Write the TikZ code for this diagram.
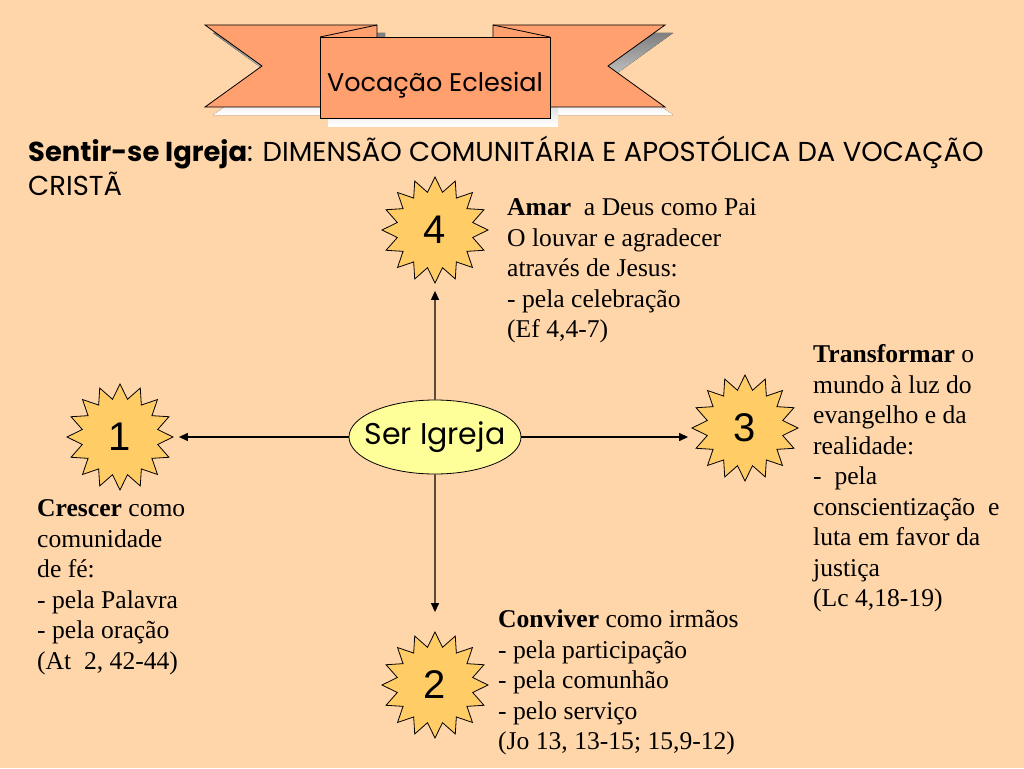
\documentclass[tikz,border=0pt]{standalone}
\usepackage{fontspec}
\setmainfont{Liberation Serif}
\newfontfamily\comic{Poppins}
\newfontfamily\arial{Liberation Sans}
\usetikzlibrary{shapes.geometric,arrows.meta}
\definecolor{bg}{RGB}{255,214,170}
\definecolor{ribbon}{RGB}{255,160,110}
\definecolor{shade}{RGB}{128,128,128}
\definecolor{starfill}{RGB}{255,204,102}
\definecolor{ellfill}{RGB}{255,255,153}
\tikzset{
  starbox/.style={star, star points=16, star point ratio=1.38, minimum size=106pt,
    inner sep=0pt, fill=starfill, draw=black, line width=0.8pt,
    font=\arial\fontsize{40}{40}\selectfont},
  txt/.style={anchor=north west, inner sep=0pt, align=left,
    font=\fontsize{25.6}{30.5}\selectfont},
  arr/.style={line width=1.2pt, -{Triangle[length=9pt,width=8pt]}},
  band/.style={fill=ribbon, draw=black, line width=0.8pt, line join=miter},
}
\begin{document}
\begin{tikzpicture}[x=1pt,y=-1pt]
\fill[bg] (0,0) rectangle (1024,768);
\useasboundingbox (0,0) rectangle (1024,768);
% banner shadows
\begin{scope}[shift={(8,8)}]
  \fill[shade] (205,25) -- (377,25) -- (377,107) -- (205,107) -- (262,66) -- cycle;
  \fill[shade] (665,25) -- (493,25) -- (493,107) -- (665,107) -- (608,66) -- cycle;
  \fill[shade] (320,37) rectangle (550,118);
\end{scope}
% ribbons
\filldraw[band] (205,25) -- (377,25) -- (377,107) -- (205,107) -- (262,66) -- cycle;
\filldraw[band] (665,25) -- (493,25) -- (493,107) -- (665,107) -- (608,66) -- cycle;
\draw[line width=0.8pt] (320,37) -- (377,25);
\draw[line width=0.8pt] (550,37) -- (493,25);
\node[band, rectangle, minimum width=230pt, minimum height=81pt, inner sep=0pt,
  text height=27pt, text depth=0pt,
  font=\comic\fontsize{25.5}{30}\selectfont] (title) at (435,77.5) {Vocação Eclesial};
% header
\node[anchor=north west, inner sep=0pt, align=left,
  font=\comic\fontsize{27.4}{30}\selectfont] (hdr) at (28,136)
  {\strut\textbf{Sentir-se Igreja}: DIMENSÃO COMUNITÁRIA E APOSTÓLICA DA VOCAÇÃO\\CRISTÃ};
% centre
\node[ellipse, minimum width=172pt, minimum height=74pt, inner xsep=-11pt, inner ysep=0pt,
  fill=ellfill, draw=black, line width=0.8pt,
  font=\comic\fontsize{30}{32}\selectfont] (ser) at (435,437) {Ser Igreja};
% stars
\node[starbox] (s4) at (435,230) {4};
\node[starbox] (s1) at (120,437) {1};
\node[starbox] (s3) at (745,428) {3};
\node[starbox] (s2) at (435,685) {2};
% arrows
\draw[arr, shorten >=7pt] (ser.north) -- (s4.south);
\draw[arr, shorten >=19pt] (ser.south) -- (s2.north);
\draw[arr, shorten >=5pt] (ser.west) -- (ser.west -| s1.east);
\draw[arr, shorten >=3pt] (ser.east) -- (ser.east -| s3.west);
% texts
\node[txt] (t4) at (507,194) {\strut\textbf{Amar}\ \ a Deus como Pai\\O louvar e agradecer\\através de Jesus:\\- pela celebração\\(Ef 4,4-7)};
\node[txt] (t3) at (813,341) {\strut\textbf{Transformar} o\\mundo à luz do\\evangelho e da\\realidade:\\-\ \ pela\\conscientização\ \ e\\luta em favor da\\justiça\\(Lc 4,18-19)};
\node[txt] (t1) at (37,495) {\strut\textbf{Crescer} como\\comunidade\\de fé:\\- pela Palavra\\- pela oração\\(At\ \ 2, 42-44)};
\node[txt] (t2) at (498,606) {\strut\textbf{Conviver} como irmãos\\- pela participação\\- pela comunhão\\- pelo serviço\\(Jo 13, 13-15; 15,9-12)};
\end{tikzpicture}
\end{document}
